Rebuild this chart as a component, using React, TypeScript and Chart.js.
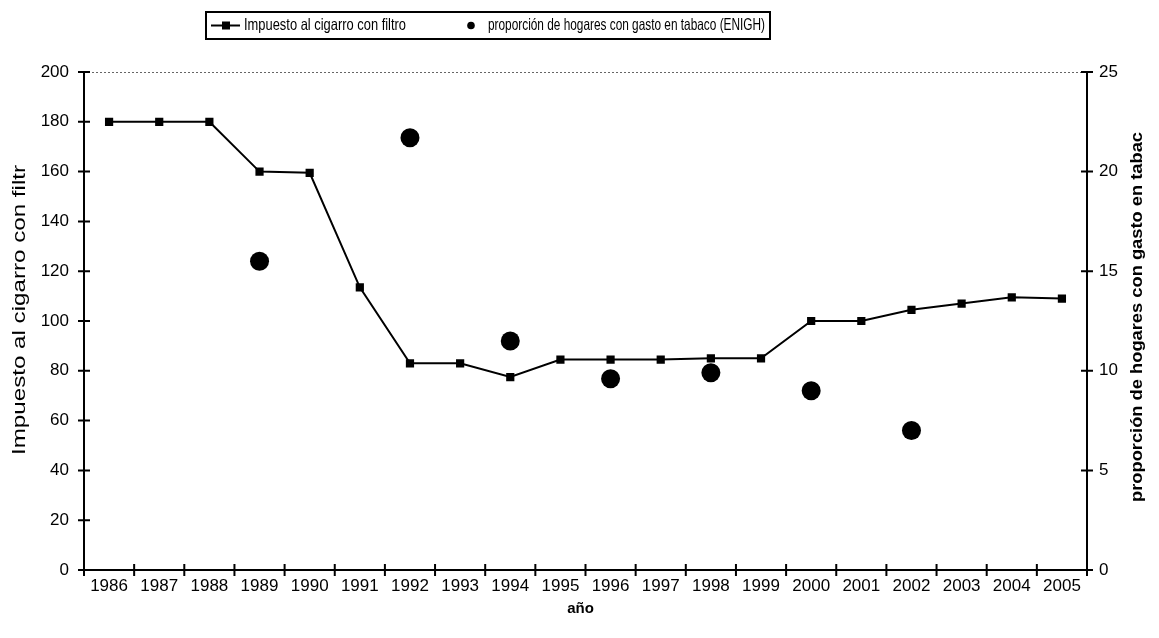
import { useEffect, useRef } from "react";
import { Chart, registerables } from "chart.js";

Chart.register(...registerables);

const years = ["1986", "1987", "1988", "1989", "1990", "1991", "1992", "1993", "1994", "1995", "1996", "1997", "1998", "1999", "2000", "2001", "2002", "2003", "2004", "2005"];
const impuesto = [180, 180, 180, 160, 159.5, 113.5, 83, 83, 77.5, 84.5, 84.5, 84.5, 85, 85, 100, 100, 104.5, 107, 109.5, 109];
const proporcion = [null, null, null, 15.5, null, null, 21.7, null, 11.5, null, 9.6, null, 9.9, null, 9.0, null, 7.0, null, null, null];
const legendLabels = ["Impuesto al cigarro con filtro", "proporción de hogares con gasto en tabaco (ENIGH)"];
const leftTitle = "Impuesto al cigarro con filtr";
const rightTitle = "proporción de hogares con gasto en tabac";
const xTitle = "año";

const SANS = "'Liberation Sans', Arial, sans-serif";

function drawScaledText(ctx: CanvasRenderingContext2D, text: string, x: number, y: number, rot: number, targetLen: number, font: string, align: "center" | "left") {
  ctx.save();
  ctx.font = font;
  const w = ctx.measureText(text).width;
  ctx.translate(x, y);
  ctx.rotate(rot);
  ctx.scale(targetLen / w, 1);
  ctx.textAlign = align;
  ctx.textBaseline = "middle";
  ctx.fillStyle = "#000";
  ctx.fillText(text, 0, 0);
  ctx.restore();
}

const decor = {
  id: "decor",
  beforeDatasetsDraw(chart: any) {
    const { ctx, chartArea: a, scales } = chart;
    ctx.save();
    // dotted top border
    ctx.strokeStyle = "#666";
    ctx.lineWidth = 1;
    ctx.setLineDash([2, 2]);
    ctx.beginPath();
    ctx.moveTo(a.left, a.top + 0.5);
    ctx.lineTo(a.right, a.top + 0.5);
    ctx.stroke();
    ctx.setLineDash([]);
    // axes
    ctx.strokeStyle = "#000";
    ctx.lineWidth = 2;
    ctx.beginPath();
    ctx.moveTo(a.left, a.top);
    ctx.lineTo(a.left, a.bottom);
    ctx.lineTo(a.right, a.bottom);
    ctx.moveTo(a.right, a.top);
    ctx.lineTo(a.right, a.bottom);
    // ticks
    const y = scales.y;
    y.ticks.forEach((_t: any, i: number) => {
      const py = y.getPixelForTick(i);
      ctx.moveTo(a.left - 6, py);
      ctx.lineTo(a.left + 6, py);
    });
    const y1 = scales.y1;
    y1.ticks.forEach((_t: any, i: number) => {
      const py = y1.getPixelForTick(i);
      ctx.moveTo(a.right - 6, py);
      ctx.lineTo(a.right + 6, py);
    });
    const x = scales.x;
    const n = x.ticks.length;
    const half = (x.getPixelForTick(1) - x.getPixelForTick(0)) / 2;
    for (let i = 0; i <= n; i++) {
      const px = i < n ? x.getPixelForTick(i) - half : x.getPixelForTick(n - 1) + half;
      ctx.moveTo(px, a.bottom - 6);
      ctx.lineTo(px, a.bottom + 6);
    }
    ctx.stroke();
    ctx.restore();
  },
  afterDraw(chart: any) {
    const { ctx, chartArea: a } = chart;
    // axis titles
    drawScaledText(ctx, leftTitle, 20, 310, -Math.PI / 2, 290, `18px ${SANS}`, "center");
    drawScaledText(ctx, rightTitle, 1138, 317, -Math.PI / 2, 370, `bold 16px ${SANS}`, "center");
    ctx.save();
    ctx.font = `bold 15px ${SANS}`;
    ctx.textAlign = "center";
    ctx.textBaseline = "middle";
    ctx.fillStyle = "#000";
    ctx.fillText(xTitle, (a.left + a.right) / 2 - 5, 609);
    ctx.restore();
    // legend
    ctx.save();
    ctx.strokeStyle = "#000";
    ctx.lineWidth = 2;
    ctx.strokeRect(206, 12, 564, 27);
    const ly = 25.5;
    ctx.beginPath();
    ctx.moveTo(211, ly);
    ctx.lineTo(240, ly);
    ctx.stroke();
    ctx.fillStyle = "#000";
    ctx.fillRect(222, ly - 4, 8, 8);
    ctx.beginPath();
    ctx.arc(471, ly, 3.8, 0, Math.PI * 2);
    ctx.fill();
    ctx.restore();
    drawScaledText(ctx, legendLabels[0], 244, ly, 0, 162, `16.5px ${SANS}`, "left");
    drawScaledText(ctx, legendLabels[1], 488, ly, 0, 277, `16.5px ${SANS}`, "left");
  },
};

export default function App() {
  const ref = useRef<HTMLCanvasElement | null>(null);
  useEffect(() => {
    if (!ref.current) return;
    const tickFont = { family: SANS, size: 17 };
    const chart = new Chart(ref.current, {
      type: "line",
      data: {
        labels: years,
        datasets: [
          {
            label: legendLabels[0],
            data: impuesto,
            yAxisID: "y",
            borderColor: "#000",
            backgroundColor: "#000",
            borderWidth: 2,
            pointStyle: "rect",
            pointRadius: 5.8,
            pointBorderWidth: 0,
            tension: 0,
          },
          {
            label: legendLabels[1],
            data: proporcion,
            yAxisID: "y1",
            showLine: false,
            borderColor: "#000",
            backgroundColor: "#000",
            pointStyle: "circle",
            pointRadius: 9.5,
            pointBorderWidth: 0,
          },
        ],
      },
      options: {
        responsive: false,
        animation: false,
        layout: { padding: { top: 72, left: 0, right: 0, bottom: 0 } },
        plugins: { legend: { display: false }, tooltip: { enabled: false } },
        scales: {
          x: {
            type: "category",
            offset: true,
            grid: { display: false, drawTicks: false, tickLength: 0 },
            border: { display: false },
            ticks: { color: "#000", font: tickFont, padding: 6, autoSkip: false, maxRotation: 0 },
            afterFit: (s: any) => { s.height = 68; },
          },
          y: {
            position: "left",
            min: 0,
            max: 200,
            grid: { display: false, drawTicks: false, tickLength: 0 },
            border: { display: false },
            ticks: { stepSize: 20, color: "#000", font: tickFont, padding: 15 },
            afterFit: (s: any) => { s.width = 84; },
          },
          y1: {
            position: "right",
            min: 0,
            max: 25,
            grid: { display: false, drawTicks: false, tickLength: 0 },
            border: { display: false },
            ticks: { stepSize: 5, color: "#000", font: tickFont, padding: 12 },
            afterFit: (s: any) => { s.width = 72; },
          },
        },
      },
      plugins: [decor],
    } as any);
    return () => chart.destroy();
  }, []);
  return (
    <div style={{ position: "absolute", left: 0, top: 0, width: 1159, height: 638, background: "#fff" }}>
      <canvas ref={ref} width={1159} height={638} style={{ width: 1159, height: 638, display: "block" }} />
    </div>
  );
}
